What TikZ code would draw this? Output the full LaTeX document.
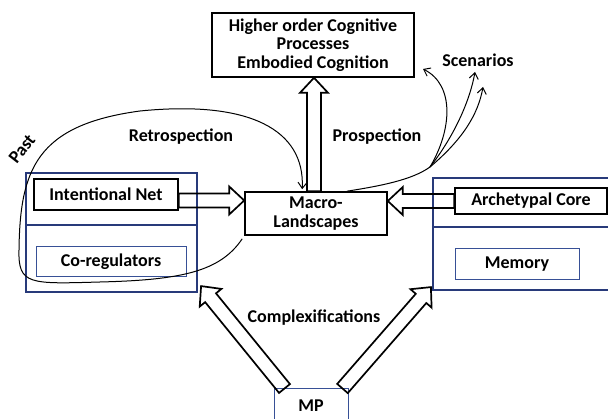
\documentclass[tikz,border=0pt]{standalone}
\usepackage{fontspec}
\setmainfont{Carlito}
\usetikzlibrary{arrows.meta,calc}

\definecolor{navy}{RGB}{40,58,122}
\definecolor{lightnavy}{RGB}{55,80,150}

\tikzset{
  blackbox/.style={draw, line width=1.6pt, inner sep=0pt, align=center},
  bluebox/.style={draw=lightnavy, line width=1pt, inner sep=0pt},
  panel/.style={draw=navy, line width=2.2pt, inner sep=0pt},
  blockarrow/.style={draw, line width=1.7pt, line join=miter},
  linkline/.style={line width=1pt},
  barb/.style={-{Straight Barb[length=6pt,width=9pt]}},
}

% hollow block arrow from #1 to #2
\newcommand{\blockarrow}[2]{%
  \draw[blockarrow] let \p1=(#1), \p2=(#2),
    \n1={atan2(\y2-\y1,\x2-\x1)}, \n2={veclen(\x2-\x1,\y2-\y1)} in
    [shift={(\p1)}, rotate=\n1]
    (0,-7) -- ({\n2-15},-7) -- ({\n2-15},-14) -- (\n2,0)
    -- ({\n2-15},14) -- ({\n2-15},7) -- (0,7) -- cycle;}

\begin{document}
\begin{tikzpicture}[x=1pt, y=-1pt,
    every node/.style={font=\fontsize{18}{18.5}\selectfont\bfseries}]
  \useasboundingbox (0,0) rectangle (608,419);

  % boxes
  \node[blackbox, minimum width=202, minimum height=64] (top) at (313,45)
    {Higher order Cognitive\\Processes\\Embodied Cognition};
  \node[blackbox, minimum width=142, minimum height=43] (macro) at (316,213.5)
    {Macro-\\Landscapes};
  \node[panel, minimum width=171, minimum height=119] (leftbox) at (111.5,232.5) {};
  \node[panel, minimum width=189, minimum height=112] (rightbox) at (527.5,234) {};
  \draw[navy, line width=2.2pt] (leftbox.west |- 0,225) -- (leftbox.east |- 0,225);
  \draw[navy, line width=2.2pt] (rightbox.west |- 0,227) -- (rightbox.east |- 0,227);
  \node[blackbox, minimum width=144, minimum height=31] (intent) at (106,194.5) {Intentional Net};
  \node[bluebox, minimum width=150, minimum height=30] (coreg) at (111,262) {Co-regulators};
  \node[blackbox, minimum width=152, minimum height=26] (arch) at (531,201) {Archetypal Core};
  \node[bluebox, minimum width=124, minimum height=31] (memory) at (517,264.5) {Memory};
  \node[bluebox, minimum width=74, minimum height=34] (mp) at (311,406) {MP};

  % labels
  \node[anchor=base] (retro) at (181,141.5) {Retrospection};
  \node[anchor=base] (prosp) at (377,141.5) {Prospection};
  \node[anchor=base] (scen) at (478,66.5) {Scenarios};
  \node[anchor=base] (complex) at (314,323) {Complexifications};
  \node[rotate=52] (past) at (22,149) {Past};

  % block arrows
  \blockarrow{$(intent.east)+(0,6)$}{$(macro.west |- intent.east)+(0,6)$}
  \blockarrow{arch.west}{macro.east |- arch.west}
  \blockarrow{$(macro.north)+(-2,0)$}{$(top.south)+(1,0)$}
  \blockarrow{$(mp.north west)+(11,0)$}{$(leftbox.south east)+(3,-7)$}
  \blockarrow{$(mp.north east)+(-6,0)$}{$(rightbox.south west)+(-1,-4)$}

  % retrospection loop
  \coordinate (retrostart) at ($(macro.south west)+(-2,3)$);
  \coordinate (retroend) at ($(macro.north west)+(58,-2)$);
  \draw[linkline, barb] (retrostart) .. controls (220,272) and (180,280) .. (100,282)
    .. controls (30,284) and (18,285) .. (19,250)
    .. controls (20,170) and (36,125) .. (140,111)
    .. controls (250,100) and (305,130) .. (retroend);

  % scenarios
  \coordinate (fork) at (430,167);
  \draw[linkline] ($(macro.north)+(31,0)$) .. controls (380,186) and (412,180) .. (fork);
  \draw[linkline, barb] (fork) .. controls (452,130) and (455,85) .. (423,69);
  \draw[linkline, barb] (fork) .. controls (455,135) and (470,100) .. (475,72);
  \draw[linkline, barb] (fork) .. controls (462,140) and (478,115) .. (483,87);
\end{tikzpicture}
\end{document}
